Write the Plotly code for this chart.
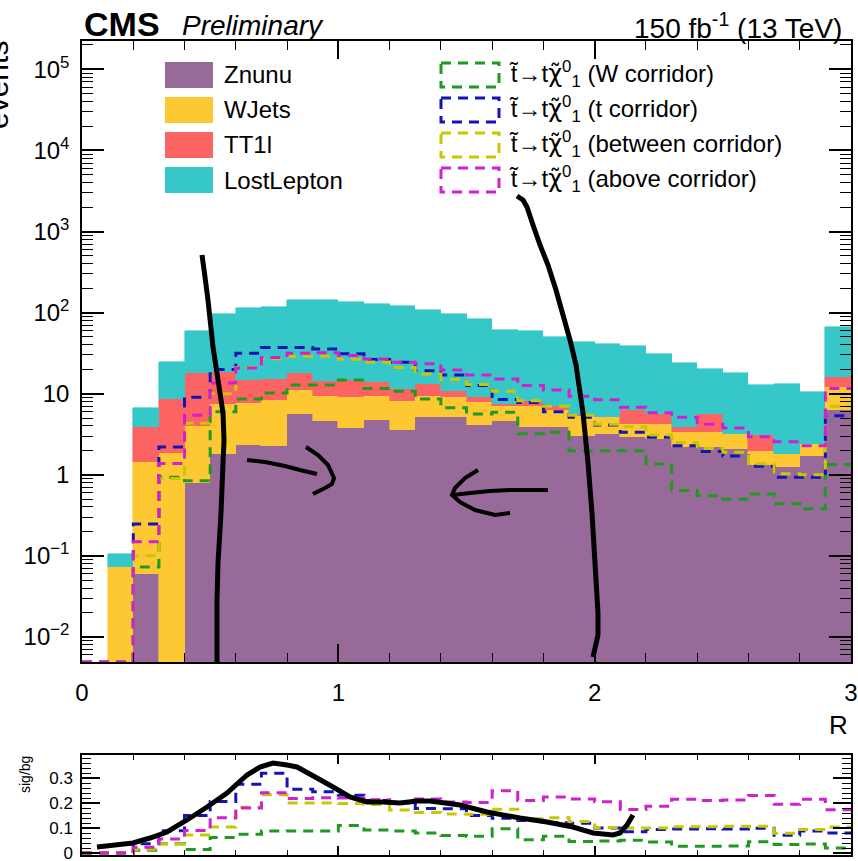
import numpy as np
import plotly.graph_objects as go

# ---------------------------------------------------------------- data
bin_edges = np.round(np.linspace(0.0, 3.0, 31), 2)
bin_centers = (bin_edges[:-1] + bin_edges[1:]) / 2

# background yields per bin (stacked in this order, bottom to top)
znunu = [0, 0, 0.060, 0, 0.80, 1.8, 2.35, 2.23, 5.6, 4.6,
         3.77, 4.7, 3.56, 5.2, 5.1, 4.14, 4.6, 3.84, 3.84, 3.03,
         3.2, 2.9, 2.76, 2.17, 2.17, 2.07, 1.3, 1.23, 1.72, 6.2]
wjets = [0, 0.073, 1.36, 1.87, 3.15, 5.7, 5.25, 6.17, 5.5, 4.8,
         5.23, 4.7, 4.64, 4.2, 3.9, 3.66, 2.4, 3.26, 2.36, 2.32,
         1.9, 1.3, 1.44, 1.23, 1.16, 1.13, 0.68, 0.57, 0.68, 6.0]
tt1l = [0, 0, 2.42, 6.83, 14.05, 10.8, 7.3, 6.6, 6.7, 5.1,
        5.7, 4.4, 3.2, 3.7, 1.9, 1.2, 0.5, 1.1, 0.9, 0.15,
        0.1, 2.0, 1.4, 0.44, 2.27, 0.0, 1.11, 0.0, 0.0, 4.0]
lost_lepton = [0, 0.033, 2.76, 16.1, 42.0, 77.7, 100.1, 101.0, 127.2, 130.5,
               119.3, 112.2, 110.6, 94.9, 85.1, 75.0, 53.5, 51.8, 42.5, 37.5,
               35.8, 32.8, 25.4, 19.86, 14.4, 14.6, 9.71, 11.3, 8.2, 50.8]

# signal yields per bin
sig_w_corridor = [0, 0, 0.073, 0.93, 0.84, 6.0, 8.6, 10.2, 12.8, 12.8,
                  14.7, 11.6, 10.7, 8.6, 6.7, 5.6, 5.9, 3.2, 3.33, 1.98,
                  1.98, 1.98, 1.36, 0.64, 0.55, 0.5, 0.58, 0.44, 0.38, 1.34]
sig_t_corridor = [0, 0, 0.246, 2.2, 9.0, 19.8, 31.6, 37.0, 37.0, 35.5,
                  31.0, 26.4, 24.4, 19.2, 17.0, 12.6, 8.5, 7.8, 6.0, 5.1,
                  4.1, 3.33, 2.9, 2.28, 1.94, 1.7, 1.27, 0.93, 0.93, 5.35]
sig_between = [0, 0, 0.10, 0.9, 4.3, 10.0, 21.0, 27.0, 29.0, 29.0,
               26.5, 24.5, 21.0, 17.5, 15.0, 13.0, 10.7, 8.2, 7.0, 5.4,
               4.2, 3.9, 3.1, 2.5, 2.1, 1.9, 1.37, 1.03, 1.0, 7.0]
sig_above = [0, 0, 0.149, 1.38, 5.4, 13.5, 20.7, 28.0, 31.6, 32.0,
             29.5, 26.8, 24.4, 23.3, 19.6, 17.0, 15.2, 12.6, 11.1, 9.3,
             8.4, 6.8, 5.8, 5.1, 4.2, 3.77, 2.94, 2.55, 2.28, 11.6]

bg_names = ["Znunu", "WJets", "TT1l", "LostLepton"]
sig_names = ["(W corridor)", "(t corridor)", "(between corridor)", "(above corridor)"]

y_tick_vals = [1e-2, 1e-1, 1, 10, 1e2, 1e3, 1e4, 1e5]
y_tick_text = ["10<sup>\u22122</sup>", "10<sup>\u22121</sup>", "1", "10",
               "10<sup>2</sup>", "10<sup>3</sup>", "10<sup>4</sup>", "10<sup>5</sup>"]
x_tick_vals = [0, 1, 2, 3]
x_tick_text = ["0", "1", "2", "3"]
r_tick_vals = [0, 0.1, 0.2, 0.3]
r_tick_text = ["0", "0.1", "0.2", "0.3"]

# ---------------------------------------------------------------- style
FONT = "Liberation Sans, Arial, Helvetica, sans-serif"
bg_colors = ["#976a9a", "#fec832", "#fc6464", "#36c8c8"]
sig_colors = ["#1f9a1f", "#1414b4", "#c8c800", "#d020d0"]
DASH = "10px,7px"

W, H = 858, 861
ML, MR, MT, MB = 82, 7, 41, 6
PW, PH = W - ML - MR, H - MT - MB


def px(xp):
    return (xp - ML) / PW


def py(yp):
    return (H - MB - yp) / PH


LOG_MIN, LOG_MAX = -2.31, 5.35
R_MIN, R_MAX = -0.008, 0.392
floor = 10 ** LOG_MIN

fig = go.Figure()

# stacked backgrounds
for name, vals, col in zip(bg_names, [znunu, wjets, tt1l, lost_lepton], bg_colors):
    fig.add_trace(go.Bar(
        x=bin_centers, y=vals, width=0.1, name=name,
        marker=dict(color=col, line=dict(color=col, width=0.6)),
        xaxis="x", yaxis="y", showlegend=False, hoverinfo="skip"))

bg_total = np.sum([znunu, wjets, tt1l, lost_lepton], axis=0)

# signal step histograms (empty bins sit on the axis floor) and their ratio to background
for vals, col in zip([sig_w_corridor, sig_t_corridor, sig_between, sig_above], sig_colors):
    v = np.asarray(vals, dtype=float)
    shown = np.where(v > 0, v, floor)
    fig.add_trace(go.Scatter(
        x=bin_edges, y=np.append(shown, shown[-1]), mode="lines",
        line=dict(shape="hv", color=col, width=3, dash=DASH),
        xaxis="x", yaxis="y", showlegend=False, hoverinfo="skip"))
    ratio = np.divide(v, bg_total, out=np.zeros_like(v), where=bg_total > 0)
    fig.add_trace(go.Scatter(
        x=bin_edges, y=np.append(ratio, ratio[-1]), mode="lines",
        line=dict(shape="hv", color=col, width=3, dash=DASH),
        xaxis="x2", yaxis="y2", showlegend=False, hoverinfo="skip"))

axis_common = dict(showline=True, linecolor="black", linewidth=1.5, mirror="allticks",
                   ticks="inside", tickcolor="black", tickwidth=1.5,
                   showgrid=False, zeroline=False, automargin=False,
                   ticklabeloverflow="allow",
                   tickfont=dict(family=FONT, size=24, color="black"))

y_minor = [k * 10.0 ** n for n in range(-3, 6) for k in range(2, 10)]
x_minor = [round(v, 1) for v in np.arange(0.2, 3.0, 0.2) if abs(v - round(v)) > 1e-6]
r_minor = [round(v, 2) for v in np.arange(0.02, 0.40, 0.02) if abs(v * 10 - round(v * 10)) > 1e-6]

main_bottom = py(662)
ratio_top = py(755)

fig.update_layout(
    width=W, height=H,
    margin=dict(l=ML, r=MR, t=MT, b=MB, autoexpand=False),
    paper_bgcolor="white", plot_bgcolor="white",
    barmode="stack", bargap=0,
    showlegend=False,
    xaxis=dict(axis_common, domain=[0, 1], anchor="y", range=[0, 3],
               tickmode="array", tickvals=x_tick_vals, ticktext=x_tick_text,
               ticklen=18, ticklabelstandoff=8,
               minor=dict(tickmode="array", tickvals=x_minor, ticks="inside",
                          ticklen=9, tickwidth=1.2, tickcolor="black")),
    yaxis=dict(axis_common, domain=[main_bottom, 1], anchor="x", type="log",
               range=[LOG_MIN, LOG_MAX],
               tickmode="array", tickvals=y_tick_vals, ticktext=y_tick_text,
               ticklen=22, ticklabelstandoff=6,
               minor=dict(tickmode="array", tickvals=y_minor, ticks="inside",
                          ticklen=11, tickwidth=1.2, tickcolor="black")),
    xaxis2=dict(axis_common, domain=[0, 1], anchor="y2", range=[0, 3],
                tickmode="array", tickvals=x_tick_vals, showticklabels=False,
                ticklen=9,
                minor=dict(tickmode="array", tickvals=x_minor, ticks="inside",
                           ticklen=5, tickwidth=1.2, tickcolor="black")),
    yaxis2=dict(axis_common, domain=[0, ratio_top], anchor="x2",
                range=[R_MIN, R_MAX],
                tickmode="array", tickvals=r_tick_vals, ticktext=r_tick_text,
                tickfont=dict(family=FONT, size=17, color="black"),
                ticklen=18, ticklabelstandoff=4,
                minor=dict(tickmode="array", tickvals=r_minor, ticks="inside",
                           ticklen=9, tickwidth=1.2, tickcolor="black")),
)

shapes = []
annotations = []


def text(x, y, s, size, xanchor="left", angle=0, **kw):
    annotations.append(dict(x=x, y=y, xref="paper", yref="paper", text=s,
                            showarrow=False, xanchor=xanchor, yanchor="middle",
                            textangle=angle,
                            font=dict(family=FONT, size=size, color="black"), **kw))


# header
text(px(82), py(24), "<b>CMS</b>", 34)
text(px(180), py(26), "<i>Preliminary</i>", 28)
text(px(844), py(26), "150 fb<sup>-1</sup> (13 TeV)", 28, xanchor="right")

# axis titles
text(px(850), py(725), "R", 26, xanchor="right")
text(px(-3), py(85), "events", 30, xanchor="center", angle=-90)
text(px(25), py(775), "sig/bg", 14, xanchor="center", angle=-90)

# legend: backgrounds (filled boxes) and signals (dashed outlines)
row_tops = [62, 97, 132, 167]
for name, col, top in zip(bg_names, bg_colors, row_tops):
    shapes.append(dict(type="rect", xref="paper", yref="paper",
                       x0=px(165), x1=px(213), y0=py(top), y1=py(top + 26),
                       fillcolor=col, line=dict(width=0)))
    text(px(222), py(top + 13), name, 24)

chi = '<span style="font-family:DejaVu Sans">\u03c7\u0303</span>'
for name, col, top in zip(sig_names, sig_colors, row_tops):
    shapes.append(dict(type="rect", xref="paper", yref="paper",
                       x0=px(441), x1=px(499), y0=py(top + 1), y1=py(top + 25),
                       fillcolor="rgba(0,0,0,0)", line=dict(color=col, width=3, dash=DASH)))
    text(px(507), py(top + 12),
         "t\u0303\u2192t" + chi + "<sup>0</sup><sub>1</sub> " + name, 24)

# pen strokes drawn over the figure (canvas pixel positions)
pen_strokes = [
    ([(202, 255), (205, 277), (208, 300), (213, 347), (218, 380), (223, 413), (224, 440),
      (223, 463), (221, 513), (218, 563), (217, 600), (217, 663)], 5),
    ([(517, 196), (523, 200), (527, 207), (533, 225), (540, 245), (548, 265), (556, 290),
      (563, 315), (570, 340), (576, 365), (583, 413), (588, 463), (592, 513), (595, 563),
      (598, 613), (598, 635), (593, 657)], 5),
    ([(247, 460), (265, 462), (285, 466), (300, 470), (317, 474)], 4),
    ([(306, 447), (318, 455), (328, 465), (334, 478), (332, 484), (325, 488), (313, 494)], 4),
    ([(548, 490), (530, 490), (510, 490), (490, 491), (470, 493), (453, 495)], 4),
    ([(478, 470), (465, 478), (455, 488), (452, 495), (460, 502), (475, 510), (495, 515),
      (510, 513)], 4),
    ([(97, 847), (133, 843), (150, 838), (167, 832), (187, 820), (207, 807), (227, 793),
      (247, 775), (260, 767), (273, 763), (287, 765), (297, 767), (317, 778), (333, 787),
      (350, 797), (367, 802), (383, 802), (400, 803), (417, 801), (430, 801), (460, 805),
      (487, 812), (520, 818), (547, 822), (573, 827), (593, 833), (613, 835), (620, 833),
      (627, 825), (633, 815)], 5),
]
for pts, lw in pen_strokes:
    path = "M " + " L ".join(f"{px(a):.5f},{py(b):.5f}" for a, b in pts)
    shapes.append(dict(type="path", xref="paper", yref="paper", path=path,
                       line=dict(color="black", width=lw), layer="above"))

fig.update_layout(shapes=shapes, annotations=annotations)

fig.write_html("out.html")
